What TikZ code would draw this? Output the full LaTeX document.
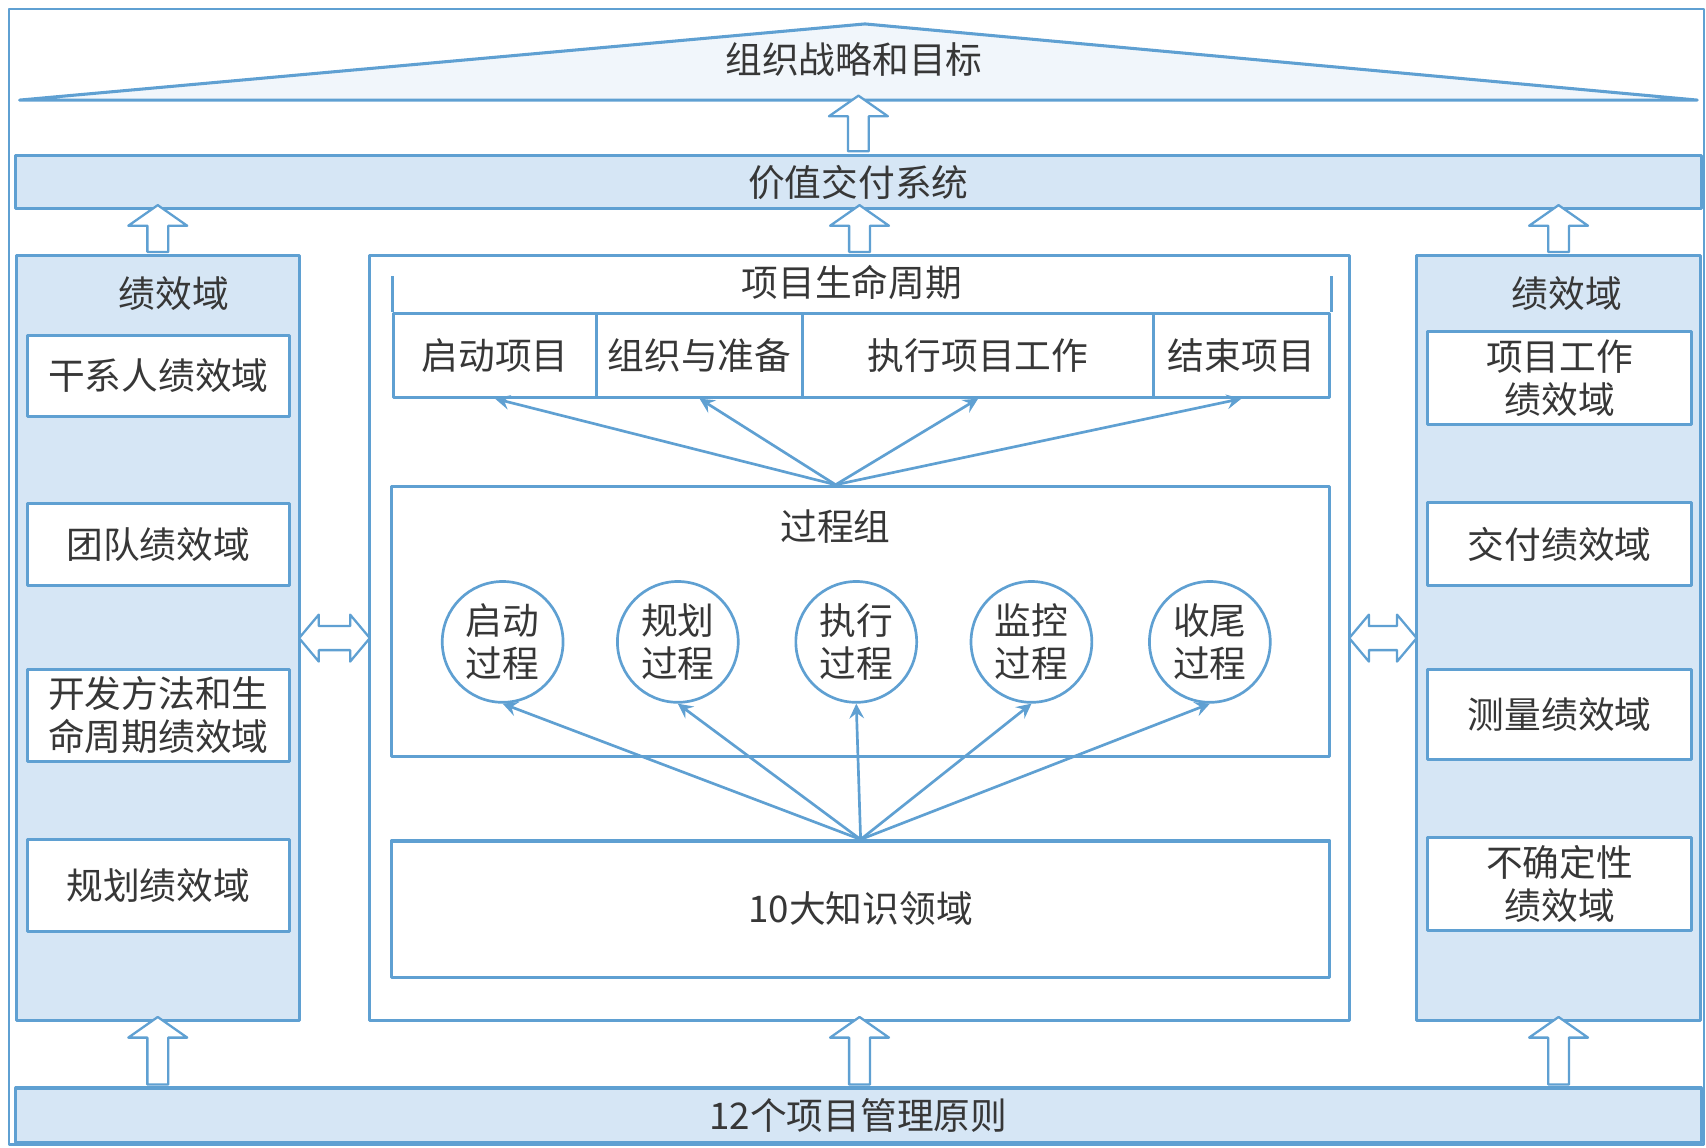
\documentclass[tikz,border=0pt]{standalone}
\usepackage{fontspec}
\newfontfamily\cjk{Noto Sans CJK SC}
\usetikzlibrary{shapes.arrows,calc,positioning}
\definecolor{ln}{RGB}{95,160,210}
\definecolor{shade}{RGB}{214,230,245}
\definecolor{txt}{RGB}{55,55,55}
\begin{document}
\begin{tikzpicture}[x=0.01cm,y=-0.01cm,line join=round,>=stealth,
	font=\cjk\fontsize{9.6}{11.2}\selectfont,text=txt,
	box/.style={draw=ln,line width=0.8pt,fill=white,inner sep=0pt,align=center},
	band/.style={box,fill=shade},
	proc/.style={circle,draw=ln,line width=0.7pt,fill=white,minimum size=1.11cm,inner sep=0pt,align=center},
	holup/.style={single arrow,draw=ln,line width=0.6pt,fill=white,rotate=90,inner sep=0.085cm,single arrow head extend=0.175cm,single arrow tip angle=110},
	holboth/.style={double arrow,draw=ln,line width=0.6pt,fill=white,inner sep=0.1cm,double arrow head extend=0.105cm,double arrow tip angle=100},
	link/.style={->,draw=ln,line width=0.7pt}]
	\useasboundingbox (0,0) rectangle (1568,1055);
	\draw[ln,line width=0.6pt] (8,8) rectangle (1566,1052);
	% roof and the two bands
	\draw[ln,line width=0.8pt,fill=shade!35] (18,92) coordinate (tl) -- (795,22) -- (1560,92) coordinate (tr) -- cycle;
	\node (goal) at (785,55) {组织战略和目标};
	\node[band,minimum width=15.48cm,minimum height=0.49cm] (vds) at (789,167.5) {价值交付系统};
	\node[band,minimum width=15.48cm,minimum height=0.5cm] (pr) at (789,1025) {12个项目管理原则};
	% three columns
	\node[band,minimum width=2.6cm,minimum height=7.03cm] (lp) at (145,586.5) {};
	\node[box,minimum width=9cm,minimum height=7.03cm] (cb) at (790,586.5) {};
	\node[band,minimum width=2.61cm,minimum height=7.03cm] (rp) at (1432.5,586.5) {};
	% left domains
	\node (lt) at (160,270) {绩效域};
	\node[box,minimum width=2.41cm,minimum height=0.75cm] (l1) at (145.5,345.5) {干系人绩效域};
	\node[box,minimum width=2.41cm,minimum height=0.75cm] (l2) at (145.5,500.5) {团队绩效域};
	\node[box,minimum width=2.41cm,minimum height=0.85cm] (l3) at (145.5,657.5) {开发方法和生\\命周期绩效域};
	\node[box,minimum width=2.41cm,minimum height=0.84cm] (l4) at (145.5,814) {规划绩效域};
	% right domains
	\node (rt) at (1440,270) {绩效域};
	\node[box,minimum width=2.43cm,minimum height=0.85cm] (r1) at (1433.5,347.5) {项目工作\\绩效域};
	\node[box,minimum width=2.43cm,minimum height=0.76cm] (r2) at (1433.5,500) {交付绩效域};
	\node[box,minimum width=2.43cm,minimum height=0.83cm] (r3) at (1433.5,656.5) {测量绩效域};
	\node[box,minimum width=2.43cm,minimum height=0.85cm] (r4) at (1433.5,812.5) {不确定性\\绩效域};
	% life cycle
	\node (lc) at (783,260) {项目生命周期};
	\node[box,minimum width=1.86cm,minimum height=0.77cm] (p1) at (455,326.5) {启动项目};
	\node[box,minimum width=1.9cm,minimum height=0.77cm] (p2) at (643,326.5) {组织与准备};
	\node[box,minimum width=3.22cm,minimum height=0.77cm] (p3) at (899,326.5) {执行项目工作};
	\node[box,minimum width=1.62cm,minimum height=0.77cm] (p4) at (1141,326.5) {结束项目};
	\draw[ln,line width=0.8pt] (p1.north west) -- ++(0,-33) (p4.north east) -- ++(0,-33);
	% process groups
	\node[box,minimum width=8.62cm,minimum height=2.48cm] (pg) at (791,571) {};
	\node (pgt) at (768,484) {过程组};
	\coordinate (pgo) at (pgt |- pg.north);
	\foreach \x/\t [count=\i] in {462/启动,623/规划,787/执行,948/监控,1112/收尾}
		\node[proc] (c\i) at (\x,590) {\t\\过程};
	\node[box,minimum width=8.62cm,minimum height=1.25cm] (kb) at (791,835.5) {10大知识领域};
	\foreach \i in {1,...,4} \draw[link] (pgo) -- (p\i.south);
	\foreach \i in {1,...,5} \draw[link] (kb.north) -- (c\i.south);
	% hollow arrows
	\node[holup,minimum height=0.51cm] (a0) at ($(vds.north)!.5!(vds.north |- tl)$) {};
	\node[holup,minimum height=0.43cm] (a1) at ($(lp.north)!.5!(lp.north |- vds.south)$) {};
	\node[holup,minimum height=0.43cm] (a2) at ($(cb.north)!.5!(cb.north |- vds.south)$) {};
	\node[holup,minimum height=0.43cm] (a3) at ($(rp.north)!.5!(rp.north |- vds.south)$) {};
	\node[holup,minimum height=0.62cm] (b1) at ($(lp.south)!.5!(lp.south |- pr.north)$) {};
	\node[holup,minimum height=0.62cm] (b2) at ($(cb.south)!.5!(cb.south |- pr.north)$) {};
	\node[holup,minimum height=0.62cm] (b3) at ($(rp.south)!.5!(rp.south |- pr.north)$) {};
	\node[holboth,minimum height=0.65cm] (d1) at ($(lp.east)!.5!(cb.west)$) {};
	\node[holboth,minimum height=0.62cm] (d2) at ($(cb.east)!.5!(rp.west)$) {};
\end{tikzpicture}
\end{document}
